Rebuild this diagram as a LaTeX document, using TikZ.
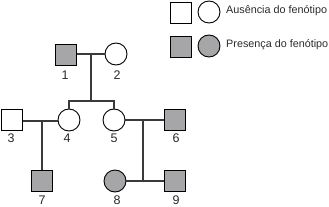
\documentclass[tikz,border=0pt]{standalone}
\usepackage{fontspec}
\setmainfont{Liberation Sans}
\begin{document}
\begin{tikzpicture}[x=1pt,y=-1pt,
  male/.style={draw=black,line width=0.9pt,minimum size=21pt,inner sep=0pt,rectangle},
  female/.style={draw=black,line width=0.9pt,minimum size=22pt,inner sep=0pt,circle},
  aff/.style={fill=affgray},
  lbl/.style={font=\fontsize{12.5}{12.5}\selectfont,text=labelc,inner sep=0pt,anchor=center},
  leg/.style={font=\fontsize{10.8}{12}\selectfont,text=labelc,inner sep=0pt,anchor=west},
  conn/.style={draw=linec,line width=1.1pt}]
\definecolor{affgray}{HTML}{A6A6A8}
\definecolor{linec}{HTML}{3A3A3A}
\definecolor{labelc}{HTML}{2A2A2A}
\useasboundingbox (0,0) rectangle (329,206);
% legend
\node[male] (lm1) at (180.5,12.5) {};
\node[female] (lf1) at (209,12) {};
\node[leg] (lt1) at (226,11) {Ausência do fenótipo};
\node[male,aff] (lm2) at (180.5,46.5) {};
\node[female,aff] (lf2) at (209,46) {};
\node[leg] (lt2) at (226,45) {Presença do fenótipo};
% individuals
\node[male,aff] (p1) at (66,55) {};
\node[female] (p2) at (116,54) {};
\node[female] (p4) at (69,120) {};
\node[female] (p5) at (114,120) {};
\node[male] (p3) at (12,120) {};
\node[male,aff] (p6) at (175,120) {};
\node[male,aff] (p7) at (42,181) {};
\node[female,aff] (p8) at (115,181) {};
\node[male,aff] (p9) at (175,181) {};
% labels
\node[lbl] (n1) at (65,75) {1};
\node[lbl] (n2) at (117,75) {2};
\node[lbl] (n3) at (11,138) {3};
\node[lbl] (n4) at (67,138) {4};
\node[lbl] (n5) at (114,138) {5};
\node[lbl] (n6) at (176,138) {6};
\node[lbl] (n7) at (42,200) {7};
\node[lbl] (n8) at (117,200) {8};
\node[lbl] (n9) at (176,200) {9};
% connectors
\coordinate (m12) at (91,54);
\coordinate (s12) at (91,101);
\coordinate (m34) at (42,121);
\coordinate (m56) at (143,120);
\coordinate (s56) at (143,180);
\draw[conn] (p1.east |- m12) -- (p2.west |- m12);
\draw[conn] (m12) -- (s12);
\draw[conn] (p4.north) |- (s12) -| (p5.north);
\draw[conn] (p3.east |- m34) -- (p4.west |- m34);
\draw[conn] (m34) -- (p7.north);
\draw[conn] (p5.east) -- (p6.west);
\draw[conn] (m56) -- (s56);
\draw[conn] (p8.east) -- (p9.west);
\end{tikzpicture}
\end{document}
